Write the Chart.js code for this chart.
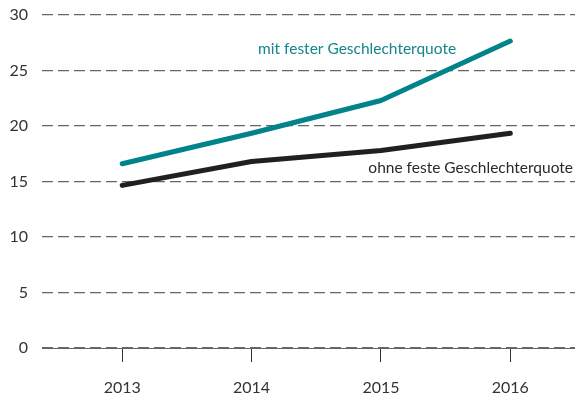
<!DOCTYPE html>
<html><head><meta charset="utf-8">
<style>html,body{margin:0;padding:0;background:#fff}#wrap{width:575px;height:401px}</style>
<script src="https://cdn.jsdelivr.net/npm/chart.js@4"></script>
</head><body><div id="wrap"><canvas id="c" width="575" height="401"></canvas></div>
<script>
const years = [2013, 2014, 2015, 2016];
const mitQuote = [16.6, 19.35, 22.3, 27.65];
const ohneQuote = [14.65, 16.8, 17.8, 19.35];
const yTicks = [0, 5, 10, 15, 20, 25, 30];
const labelMit = "mit fester Geschlechterquote";
const labelOhne = "ohne feste Geschlechterquote";
const FONT = "Lato, 'Open Sans', sans-serif";

const zeroLine = {
  id: 'zeroLine',
  beforeDatasetsDraw(chart) {
    const {ctx, chartArea, scales: {y}} = chart;
    const py = Math.round(y.getPixelForValue(0)) + 0.5;
    ctx.save();
    ctx.strokeStyle = '#666';
    ctx.lineWidth = 1.2;
    ctx.beginPath();
    ctx.moveTo(chartArea.left, py);
    ctx.lineTo(chartArea.right, py);
    ctx.stroke();
    ctx.restore();
  }
};

const annot = {
  id: 'annot',
  afterDatasetsDraw(chart) {
    const {ctx, scales: {x, y}} = chart;
    ctx.save();
    ctx.font = "15.5px " + FONT;
    ctx.textBaseline = 'middle';
    ctx.textAlign = 'left';
    ctx.fillStyle = '#13868c';
    ctx.fillText(labelMit, x.getPixelForValue(2014.05), y.getPixelForValue(26.9));
    ctx.fillStyle = '#2a2a2a';
    ctx.textAlign = 'right';
    ctx.fillText(labelOhne, x.right - 2, y.getPixelForValue(16.2));
    ctx.restore();
  }
};

new Chart(document.getElementById('c'), {
  type: 'line',
  data: {
    datasets: [
      {label: labelMit, data: years.map((v,i)=>({x:v, y:mitQuote[i]})), borderColor: '#00838a', borderWidth: 5, pointRadius: 0, borderCapStyle: 'round', borderJoinStyle: 'round', tension: 0},
      {label: labelOhne, data: years.map((v,i)=>({x:v, y:ohneQuote[i]})), borderColor: '#231f20', borderWidth: 5, pointRadius: 0, borderCapStyle: 'round', borderJoinStyle: 'round', tension: 0}
    ]
  },
  options: {
    responsive: false,
    animation: false,
    layout: {padding: {left: 0, right: 0, top: 15, bottom: 0}},
    plugins: {legend: {display: false}, tooltip: {enabled: false}},
    scales: {
      x: {
        type: 'linear',
        min: 2012.38, max: 2016.5,
        afterBuildTicks: (s) => { s.ticks = years.map(v => ({value: v})); },
        afterFit: (s) => { s.height = 53; s.paddingLeft = 0; s.paddingRight = 0; },
        border: {display: false},
        grid: {display: true, drawOnChartArea: false, drawTicks: true, tickLength: 14, color: '#333', lineWidth: 1},
        ticks: {font: {family: FONT, size: 16}, color: '#333', padding: 16, callback: v => String(v), maxRotation: 0}
      },
      y: {
        min: 0, max: 30,
        afterBuildTicks: (s) => { s.ticks = yTicks.map(v => ({value: v})); },
        afterFit: (s) => { s.width = 42; s.paddingTop = 0; s.paddingBottom = 0; },
        border: {display: false, dash: [11, 5]},
        grid: {drawTicks: false, color: '#666', lineWidth: 1.3},
        ticks: {font: {family: FONT, size: 16}, color: '#333', padding: 14}
      }
    }
  },
  plugins: [zeroLine, annot]
});
</script></body></html>
